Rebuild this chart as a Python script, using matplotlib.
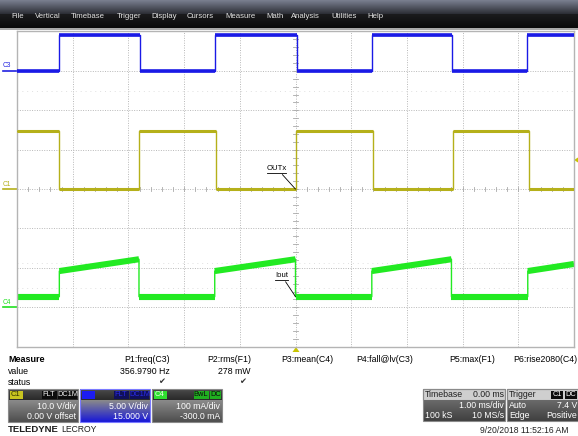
import matplotlib.pyplot as plt
import numpy as np
from matplotlib.colors import LinearSegmentedColormap
from matplotlib.patches import Rectangle, Polygon

plt.rcParams['font.family'] = ['Liberation Sans', 'DejaVu Sans']

# channel settings, as shown in the scope panels
c1_scale, c1_offset = 10.0, 0.0      # V/div, V
c3_scale, c3_offset = 5.0, 15.0      # V/div, V
c4_scale, c4_offset = 100.0, -300.0  # mA/div, mA

# C3 (blue) logic input: edge times in ms, level of each segment in V
c3_edges = [-4.25, -2.80, -1.45, 0.03, 1.37, 2.81, 4.16]
c3_levels = [0.0, 4.6, 0.0, 4.6, 0.0, 4.6, 0.0, 4.6]

# C1 (yellow) OUTx voltage
c1_edges = [-4.24, -2.81, -1.43, 0.0, 1.39, 2.83, 4.19]
c1_levels = [14.8, 0.0, 14.8, 0.0, 14.8, 0.0, 14.8, 0.0]

# C4 (green) Iout current: value at start and end of each segment in mA
c4_edges = [-4.24, -2.81, -1.45, 0.0, 1.37, 2.80, 4.17]
c4_start = [27, 92, 27, 92, 27, 92, 27, 92]
c4_end = [27, 122, 27, 122, 27, 122, 27, 110]

menu_items = ["File", "Vertical", "Timebase", "Trigger", "Display", "Cursors",
              "Measure", "Math", "Analysis", "Utilities", "Help"]

meas_names = ["P1:freq(C3)", "P2:rms(F1)", "P3:mean(C4)", "P4:fall@lv(C3)",
              "P5:max(F1)", "P6:rise2080(C4)"]
meas_values = ["356.9790 Hz", "278 mW", "", "", "", ""]
meas_ok = [True, True, False, False, False, False]

W, H = 578, 436
fig = plt.figure(figsize=(W / 100, H / 100), dpi=100)
fig.patch.set_facecolor('white')

# ui layer in pixel coordinates
ui = fig.add_axes([0, 0, 1, 1])
ui.set_xlim(0, W)
ui.set_ylim(H, 0)
ui.axis('off')


def grad(x0, y0, w, h, top, bot, z=1):
    cm = LinearSegmentedColormap.from_list('g', [top, bot])
    ui.imshow(np.linspace(0, 1, 32).reshape(-1, 1), cmap=cm, aspect='auto',
              extent=[x0, x0 + w, y0 + h, y0], zorder=z, interpolation='bilinear')


def rect(x0, y0, w, h, fc, ec='none', lw=0.8, z=2):
    ui.add_patch(Rectangle((x0, y0), w, h, fc=fc, ec=ec, lw=lw, zorder=z))


def txt(x, y, s, c='black', ha='left', size=6.3, **kw):
    ui.text(x, y, s, color=c, ha=ha, va='center', fontsize=size, zorder=5, **kw)


# menu bar
grad(0, 0, W, 14, '#7a7f90', '#2c2e35')
grad(0, 14, W, 14, '#1b1b1d', '#0a0a0a')
rect(0, 28, W, 2.5, '#a9a9a9', z=1)
menu_x = [11, 35, 71, 117, 151, 187, 225, 266, 291, 331, 367]
for s, x in zip(menu_items, menu_x):
    txt(x, 16, s, c='#e4e4e4', size=5.6)

# channel ground markers at the left edge
for lab, y, col in [("C3", 70.7, '#2020e0'), ("C1", 189, '#b5b01a'), ("C4", 307, '#20e020')]:
    txt(2.5, y - 4.8, lab, c=col, size=4.8)
    ui.plot([3, 17], [y, y], color=col, lw=1.2, zorder=3)

# trigger level and trigger time markers
ui.add_patch(Polygon([[574, 160], [578, 157.5], [578, 162.5]], closed=True,
                     fc='#c8c400', ec='none', zorder=4))
ui.add_patch(Polygon([[292.5, 352], [299.5, 352], [296, 347]], closed=True,
                     fc='#c8c400', ec='none', zorder=4))

# scope grid
ax = fig.add_axes([17 / W, 1 - 346.7 / H, 557 / W, 315.2 / H])
ax.set_xlim(-5, 5)
ax.set_ylim(-4, 4)
ax.set_xticks([])
ax.set_yticks([])
for sp in ax.spines.values():
    sp.set_color('#b4b4b4')
    sp.set_linewidth(1.0)
for gx in range(-4, 5):
    ax.axvline(gx, color='#b8b8b8', lw=0.7, ls=(0, (1, 1.5)), zorder=1)
for gy in range(-3, 4):
    ax.axhline(gy, color='#b8b8b8', lw=0.7, ls=(0, (1, 1.5)), zorder=1)
# faint ghost marks left on the screen
for gy in [2.5, -1.88, -2.5]:
    ax.axhline(gy, color='#e0e0e0', lw=0.7, ls=(0, (1, 4)), zorder=1)
for t in np.arange(-5, 5.01, 0.2):
    ax.plot([t, t], [-0.06, 0.06], color='#a8a8a8', lw=0.6, zorder=1)
for v in np.arange(-4, 4.01, 0.2):
    ax.plot([-0.045, 0.045], [v, v], color='#a8a8a8', lw=0.6, zorder=1)


def trace(edges, start, end, scale, offset, col, band, z):
    bounds = [-5.0] + list(edges) + [5.0]
    xs, ys = [], []
    for i in range(len(start)):
        a, b = bounds[i], bounds[i + 1]
        ya = (start[i] + offset) / scale
        yb = (end[i] + offset) / scale
        xs += [a, b]
        ys += [ya, yb]
        ax.plot([a, b], [ya, yb], color=col, lw=band, solid_capstyle='butt', zorder=z)
    ax.plot(xs, ys, color=col, lw=1.0, zorder=z)


trace(c3_edges, c3_levels, c3_levels, c3_scale, c3_offset, '#1a1ae6', 2.6, 4)
trace(c1_edges, c1_levels, c1_levels, c1_scale, c1_offset, '#b5b01a', 2.2, 3)
trace(c4_edges, c4_start, c4_end, c4_scale, c4_offset, '#22ea22', 4.4, 2)

# labels on the traces
ax.annotate("OUTx", xy=(0.0, 0.0), xytext=(-0.52, 0.44), fontsize=5.6,
            ha='left', va='bottom', zorder=6,
            arrowprops=dict(arrowstyle='-', color='black', lw=0.6, shrinkA=0, shrinkB=0))
ax.plot([-0.52, -0.17], [0.42, 0.42], color='black', lw=0.6, zorder=6)
ax.annotate("Iout", xy=(0.0, -2.73), xytext=(-0.37, -2.28), fontsize=5.6,
            ha='left', va='bottom', zorder=6,
            arrowprops=dict(arrowstyle='-', color='black', lw=0.6, shrinkA=0, shrinkB=0))
ax.plot([-0.37, -0.14], [-2.30, -2.30], color='black', lw=0.6, zorder=6)

# measurement table
txt(8, 359, "Measure", size=6.5, weight='bold')
txt(8, 371, "value", size=6.3)
txt(8, 382, "status", size=6.3)
meas_right = [170, 251, 333, 413, 495, 577]
for name, val, ok, xr in zip(meas_names, meas_values, meas_ok, meas_right):
    txt(xr, 359, name, ha='right')
    if val:
        txt(xr, 371, val, ha='right')
    if ok:
        txt(xr - 5, 382, "\u2714", ha='right', size=6.0, c='#333333')


def chan_box(x0, tag, tagc, tagtxt, flags, flagc, flagtxt, row1, row2, body_bot, edge):
    grad(x0, 389, 70, 11, '#4a4a4a', '#2a2a2a', z=2)
    grad(x0, 400, 70, 22, '#8a8a8a', body_bot, z=2)
    rect(x0, 389, 70, 33, 'none', ec=edge, lw=0.8, z=3)
    rect(x0 + 1.5, 390.5, 13, 8.5, tagc, z=3)
    txt(x0 + 2.5, 394.8, tag, c=tagtxt, size=5.5)
    xr = x0 + 69
    for f in reversed(flags):
        w = 4.0 * len(f) + 3
        rect(xr - w, 390.5, w, 8.5, flagc, z=3)
        txt(xr - w / 2, 394.8, f, c=flagtxt, ha='center', size=5.3)
        xr -= w + 1.5
    txt(x0 + 68, 406, row1, c='white', ha='right', size=6.3)
    txt(x0 + 68, 416, row2, c='white', ha='right', size=6.3)


chan_box(8, "C1", '#c8c420', '#303000', ["FLT", "DC1M"], '#0c0c0c', '#f0f0f0',
         "10.0 V/div", "0.00 V offset", '#4e4e4e', '#8a8a8a')
chan_box(80, "C2", '#1c1cf0', '#1c1cf0', ["FLT", "DC1M"], '#10105a', '#2a2ae8',
         "5.00 V/div", "15.000 V", '#1818d8', '#7a7aff')
chan_box(152, "C4", '#30e030', '#f0fff0', ["BwL", "DC"], '#20b020', '#0c0c0c',
         "100 mA/div", "-300.0 mA", '#4e4e4e', '#8a8a8a')

# timebase and trigger panels
for x0, w in [(423, 82), (507, 71)]:
    rect(x0, 389, w, 10.5, '#cfcfcf', ec='#8a8a8a', z=2)
    grad(x0, 399.5, w, 21, '#6a6a6a', '#404040', z=2)
    rect(x0, 389, w, 31.5, 'none', ec='#8a8a8a', lw=0.8, z=3)
txt(425, 394.5, "Timebase", c='#202020')
txt(504, 394.5, "0.00 ms", c='#202020', ha='right')
txt(504, 405, "1.00 ms/div", c='white', ha='right')
txt(425, 415, "100 kS", c='white')
txt(504, 415, "10 MS/s", c='white', ha='right')
txt(509, 394.5, "Trigger", c='#202020')
rect(551, 390.5, 12, 8.5, '#0c0c0c', z=3)
txt(557, 394.8, "C1", c='white', ha='center', size=5.3)
rect(564.5, 390.5, 12.5, 8.5, '#0c0c0c', z=3)
txt(570.7, 394.8, "DC", c='white', ha='center', size=5.3)
txt(509, 405, "Auto", c='white')
txt(577, 405, "7.4 V", c='white', ha='right')
txt(509, 415, "Edge", c='white')
txt(577, 415, "Positive", c='white', ha='right')

txt(8, 429, "TELEDYNE", c='#1e1e1e', size=6.8, weight='bold')
txt(61, 429, "LECROY", c='#1e1e1e', size=6.2)
txt(569, 430.5, "9/20/2018 11:52:16 AM", c='#222222', ha='right', size=6.2)

fig.savefig('out.png', dpi=100)
